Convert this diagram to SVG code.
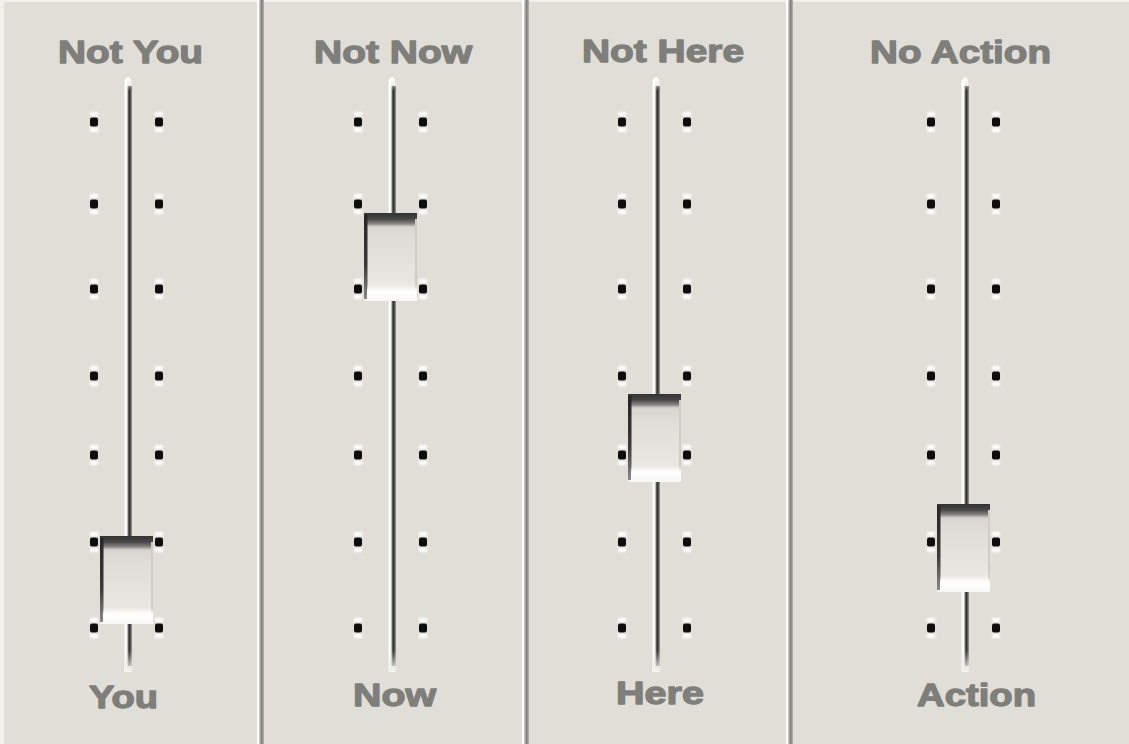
<svg xmlns="http://www.w3.org/2000/svg" xmlns:xlink="http://www.w3.org/1999/xlink" width="1129" height="744" viewBox="0 0 1129 744">
<style>
.lbl{font-family:"Liberation Sans",Arial,sans-serif;font-weight:bold;font-size:32px;fill:#7e7e7a;stroke:#7e7e7a;stroke-width:1.3px;stroke-linejoin:round}
</style>
<defs>
<filter id="soft" x="-50%" y="-50%" width="200%" height="200%"><feGaussianBlur stdDeviation="0.9"/></filter>
<filter id="soft2" x="-50%" y="-50%" width="200%" height="200%"><feGaussianBlur stdDeviation="0.6"/></filter>
<linearGradient id="trackDark" x1="0" y1="0" x2="1" y2="0">
<stop offset="0" stop-color="#8a8a88"/><stop offset="0.45" stop-color="#2e2e2e"/><stop offset="1" stop-color="#9a9a98"/>
</linearGradient>
<linearGradient id="trackEndTop" x1="0" y1="0" x2="0" y2="1">
<stop offset="0" stop-color="#ffffff"/><stop offset="1" stop-color="#ffffff" stop-opacity="0"/>
</linearGradient>
<linearGradient id="trackEndBot" x1="0" y1="0" x2="0" y2="1">
<stop offset="0" stop-color="#e1ded8" stop-opacity="0"/><stop offset="1" stop-color="#f4f3f0"/>
</linearGradient>
<linearGradient id="knobBody" x1="0" y1="0" x2="0" y2="1">
<stop offset="0" stop-color="#cfcdc7"/><stop offset="0.3" stop-color="#dfddd8"/><stop offset="0.8" stop-color="#e8e7e2"/><stop offset="1" stop-color="#f3f2ef"/>
</linearGradient>
<linearGradient id="knobTop" x1="0" y1="0" x2="0" y2="1">
<stop offset="0" stop-color="#333333"/><stop offset="0.4" stop-color="#474747"/><stop offset="0.75" stop-color="#8e8d8a"/><stop offset="1" stop-color="#d8d6d0" stop-opacity="0"/>
</linearGradient>
<linearGradient id="knobLeft" x1="0" y1="0" x2="0" y2="1">
<stop offset="0" stop-color="#262626"/><stop offset="0.6" stop-color="#3a3a3a"/><stop offset="1" stop-color="#8a8a88"/>
</linearGradient>
<linearGradient id="knobBot" x1="0" y1="0" x2="0" y2="1">
<stop offset="0" stop-color="#ffffff" stop-opacity="0"/><stop offset="0.4" stop-color="#ffffff"/><stop offset="1" stop-color="#f7f7f5"/>
</linearGradient>
<g id="dot">
<rect x="-4" y="-10" width="8" height="4" fill="#ffffff" filter="url(#soft)"/>
<rect x="-4" y="6" width="8" height="4" fill="#ffffff" filter="url(#soft)"/>
<rect x="-4" y="-4.5" width="8" height="9" rx="2" fill="#111111" filter="url(#soft2)"/>
</g>
<g id="track">
<rect x="-4.5" y="80" width="3" height="592" fill="#fbfbf9"/>
<rect x="-1.5" y="86" width="4.5" height="580" fill="url(#trackDark)"/>
<ellipse cx="-1" cy="84" rx="3.5" ry="7" fill="url(#trackEndTop)"/>
<rect x="-4.5" y="650" width="7.5" height="22" fill="url(#trackEndBot)"/>
</g>
<g id="dots">
<use xlink:href="#dot" x="-35" y="122"/><use xlink:href="#dot" x="30" y="122"/>
<use xlink:href="#dot" x="-35" y="204"/><use xlink:href="#dot" x="30" y="204"/>
<use xlink:href="#dot" x="-35" y="289"/><use xlink:href="#dot" x="30" y="289"/>
<use xlink:href="#dot" x="-35" y="376"/><use xlink:href="#dot" x="30" y="376"/>
<use xlink:href="#dot" x="-35" y="455"/><use xlink:href="#dot" x="30" y="455"/>
<use xlink:href="#dot" x="-35" y="542"/><use xlink:href="#dot" x="30" y="542"/>
<use xlink:href="#dot" x="-35" y="628"/><use xlink:href="#dot" x="30" y="628"/>
</g>
<g id="knob">
<rect x="-29" y="0" width="53" height="88" fill="url(#knobBody)"/>
<rect x="-29" y="0" width="53" height="15" fill="url(#knobTop)"/>
<rect x="-29" y="2" width="3.5" height="84" fill="url(#knobLeft)"/>
<rect x="22" y="6" width="2" height="74" fill="#cfcdc7"/>
<rect x="-26" y="72" width="50" height="16" fill="url(#knobBot)"/>
</g>
</defs>
<rect x="0" y="0" width="1129" height="744" fill="#e1ded8"/>
<rect x="0" y="0" width="4" height="744" fill="#f1f0ec"/>
<rect x="0" y="0" width="1129" height="2" fill="#f1f0ec"/>
<g id="dividers">
<rect x="257" y="0" width="2" height="744" fill="#ffffff"/>
<rect x="259.5" y="0" width="4.5" height="744" fill="#a9a8a5"/>
<rect x="261" y="0" width="1.5" height="744" fill="#7f7f7d"/>
<rect x="522" y="0" width="2" height="744" fill="#ffffff"/>
<rect x="524.5" y="0" width="4.5" height="744" fill="#a9a8a5"/>
<rect x="526" y="0" width="1.5" height="744" fill="#7f7f7d"/>
<rect x="786" y="0" width="2" height="744" fill="#ffffff"/>
<rect x="788.5" y="0" width="4.5" height="744" fill="#a9a8a5"/>
<rect x="790" y="0" width="1.5" height="744" fill="#7f7f7d"/>
</g>
<g id="slider-you">
<text class="lbl" x="58" y="63" textLength="145" lengthAdjust="spacingAndGlyphs">Not You</text>
<use xlink:href="#dots" x="129" y="0"/>
<use xlink:href="#track" x="129" y="0"/>
<use xlink:href="#knob" x="129" y="536"/>
<text class="lbl" x="89" y="708" textLength="69" lengthAdjust="spacingAndGlyphs">You</text>
</g>
<g id="slider-now">
<text class="lbl" x="314" y="63" textLength="158" lengthAdjust="spacingAndGlyphs">Not Now</text>
<use xlink:href="#dots" x="393" y="0"/>
<use xlink:href="#track" x="393" y="0"/>
<use xlink:href="#knob" x="393" y="213"/>
<text class="lbl" x="353" y="706" textLength="83" lengthAdjust="spacingAndGlyphs">Now</text>
</g>
<g id="slider-here">
<text class="lbl" x="582" y="62" textLength="162" lengthAdjust="spacingAndGlyphs">Not Here</text>
<use xlink:href="#dots" x="657" y="0"/>
<use xlink:href="#track" x="657" y="0"/>
<use xlink:href="#knob" x="657" y="394"/>
<text class="lbl" x="616" y="704" textLength="88" lengthAdjust="spacingAndGlyphs">Here</text>
</g>
<g id="slider-action">
<text class="lbl" x="870" y="63" textLength="181" lengthAdjust="spacingAndGlyphs">No Action</text>
<use xlink:href="#dots" x="966" y="0"/>
<use xlink:href="#track" x="966" y="0"/>
<use xlink:href="#knob" x="966" y="504"/>
<text class="lbl" x="917" y="706" textLength="119" lengthAdjust="spacingAndGlyphs">Action</text>
</g>
<g id="connectors"/>
</svg>
